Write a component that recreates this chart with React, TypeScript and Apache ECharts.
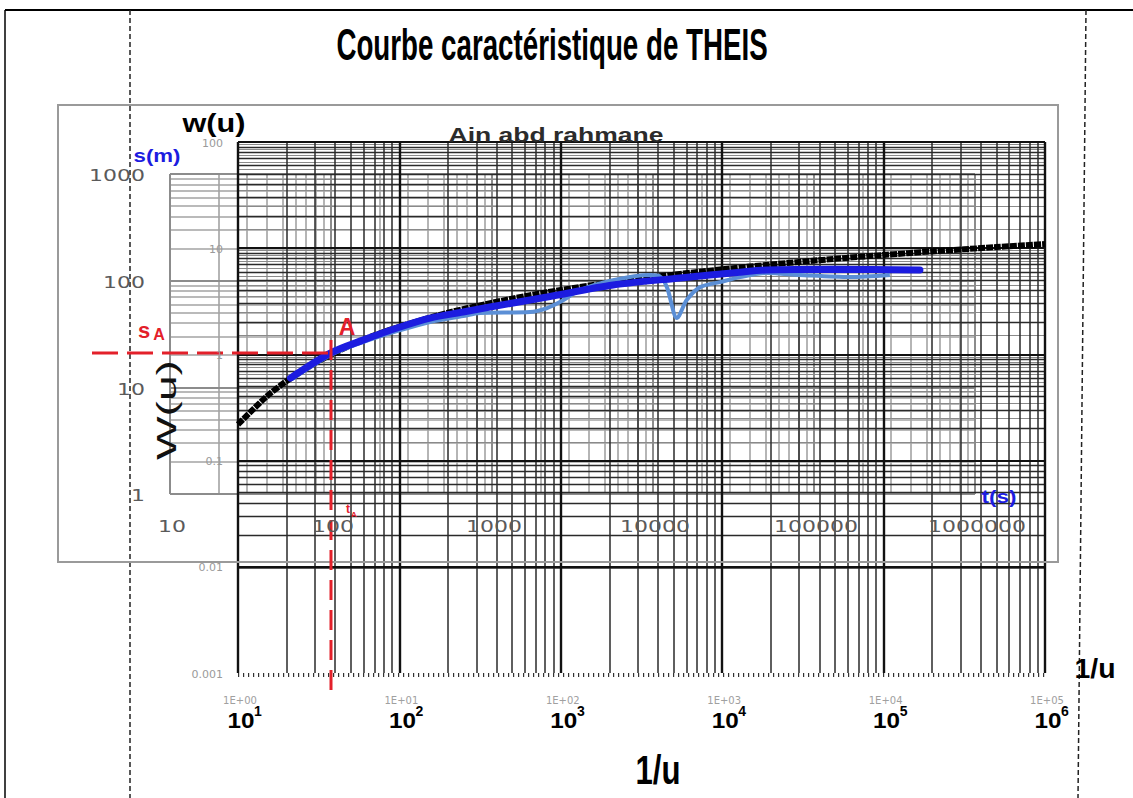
import React, { useEffect, useRef } from 'react';
import * as echarts from 'echarts';

const titleText = 'Courbe caractéristique de THEIS';
const excelTitle = 'Ain abd rahmane';

// Theis type curve : W(u) against 1/u (black)
const theisInvU = [1, 1.5, 2, 3, 5, 7, 10, 20, 50, 100, 200, 500, 1000, 2000, 5000, 10000, 20000, 50000, 100000];
const theisW = [0.219, 0.40, 0.56, 0.83, 1.22, 1.51, 1.82, 2.47, 3.35, 4.04, 4.73, 5.64, 6.33, 7.02, 7.94, 8.63, 9.33, 10.24, 10.94];

// fitted drawdown s(m) against t(s) (blue)
const fitT = [56, 99, 158, 257, 412, 661, 972, 2200, 5650, 14700, 34700, 51000, 131000, 455000];
const fitS = [12.2, 20.9, 27.7, 36.0, 44.6, 50.8, 56.6, 70.2, 91, 106, 120, 126, 128, 126];

// observed drawdown s(m) against t(s) (light blue)
const obsT = [57, 99, 158, 257, 412, 661, 842, 1720, 2200, 2640, 3520, 5650, 9570, 11000, 12200, 14100, 16200, 19600, 26100, 34700, 51000, 81800, 167000, 296000];
const obsS = [11.9, 20.0, 26.5, 33.6, 41.0, 46.6, 49.7, 50.8, 55.4, 63, 81.6, 101, 113, 110, 87, 44.6, 65.8, 87, 97, 108, 118, 113, 108, 113];

// match point A
const matchT = 100;
const matchS = 21;

// tick labels
const sTicks = [1, 10, 100, 1000];
const sTickLabels = ['1', '10', '100', '1000'];
const tTicks = [10, 100, 1000, 10000, 100000, 1000000];
const tTickLabels = ['10', '100', '1000', '10000', '100000', '1000000'];
const invUTicks = [1, 10, 100, 1000, 10000, 100000];
const invUExponents = ['1', '2', '3', '4', '5', '6'];
const invUFaint = ['1E+00', '1E+01', '1E+02', '1E+03', '1E+04', '1E+05'];
const wTicks = [100, 10, 1, 0.1, 0.01, 0.001];
const wTickLabels = ['100', '10', '1', '0.1', '0.01', '0.001'];

const RED = '#e3202a';
const BLUE = '#1c1ce0';

function measure(text: string, font: string) {
  const c = document.createElement('canvas').getContext('2d')!;
  c.font = font;
  return c.measureText(text).width;
}

function stext(text: string, x: number, y: number, size: number, targetW: number | null, fill: string, opts: any = {}) {
  const weight = opts.weight || 'bold';
  const family = opts.family || 'Liberation Sans';
  let sx = 1;
  if (targetW) sx = targetW / measure(text, `${weight} ${size}px "${family}"`);
  return {
    type: 'text',
    x,
    y,
    scaleX: sx,
    rotation: opts.rotation || 0,
    z: 100,
    silent: true,
    style: {
      text,
      fontSize: size,
      fontWeight: weight,
      fontFamily: family,
      fill,
      align: opts.align || 'center',
      verticalAlign: 'middle',
    },
  };
}

function decades(lo: number, hi: number) {
  const majors: number[] = [];
  const minors: number[] = [];
  const halves: number[] = [];
  for (let e = lo; e < hi; e++) {
    const b = Math.pow(10, e);
    majors.push(b);
    for (let m = 2; m <= 9; m++) minors.push(+(m * b).toPrecision(6));
    for (let m = 1.5; m < 10; m += 1) halves.push(+(m * b).toPrecision(6));
  }
  majors.push(Math.pow(10, hi));
  return { majors, minors, halves };
}

export default function App() {
  const ref = useRef<HTMLDivElement>(null);
  useEffect(() => {
    const chart = echarts.init(ref.current!, null, { renderer: 'svg' });

    const tx = decades(0, 5); // 1/u
    const ty = decades(-3, 2); // W(u)
    const ex = decades(1, 6); // t
    const ey = decades(0, 3); // s

    const theisLines: any[] = [
      ...ty.halves.map((v) => ({ yAxis: v, lineStyle: { color: '#8a8a8a', width: 1.2 } })),
      ...ty.minors.map((v) => ({ yAxis: v, lineStyle: { color: '#2a2a2a', width: 1.4 } })),
      ...tx.minors.map((v) => ({ xAxis: v, lineStyle: { color: '#2a2a2a', width: 1.5 } })),
      ...ty.majors.map((v) => ({ yAxis: v, lineStyle: { color: '#111', width: 2.2 } })),
      ...tx.majors.map((v) => ({ xAxis: v, lineStyle: { color: '#111', width: 2.4 } })),
    ];
    const excelLines: any[] = [
      ...ey.minors.map((v) => ({ yAxis: v, lineStyle: { color: '#a3a3a3', width: 1.6 } })),
      ...ex.minors.map((v) => ({ xAxis: v, lineStyle: { color: '#a3a3a3', width: 1.6 } })),
      ...ey.majors.map((v) => ({ yAxis: v, lineStyle: { color: '#8c8c8c', width: 2 } })),
      ...ex.majors.map((v) => ({ xAxis: v, lineStyle: { color: '#8c8c8c', width: 2 } })),
    ];

    const hiddenAxis = {
      axisLine: { show: false },
      axisTick: { show: false },
      axisLabel: { show: false },
      splitLine: { show: false },
    };

    chart.setOption({
      animation: false,
      backgroundColor: '#fff',
      grid: [
        { left: 238, top: 142, width: 807, height: 531 },
        { left: 170, top: 174, width: 805, height: 320 },
      ],
      xAxis: [
        { type: 'log', logBase: 10, gridIndex: 0, min: 1, max: 100000, ...hiddenAxis },
        { type: 'log', logBase: 10, gridIndex: 1, min: 10, max: 1000000, ...hiddenAxis },
      ],
      yAxis: [
        { type: 'log', logBase: 10, gridIndex: 0, min: 0.001, max: 100, ...hiddenAxis },
        { type: 'log', logBase: 10, gridIndex: 1, min: 1, max: 1000, ...hiddenAxis },
      ],
      series: [
        {
          type: 'line',
          xAxisIndex: 1,
          yAxisIndex: 1,
          data: [[10, 1]],
          symbol: 'none',
          lineStyle: { opacity: 0 },
          silent: true,
          markLine: {
            silent: true,
            symbol: ['none', 'none'],
            z: 1,
            label: { show: false },
            lineStyle: { type: 'solid' },
            emphasis: { disabled: true },
            data: excelLines,
          },
        },
        {
          type: 'line',
          xAxisIndex: 0,
          yAxisIndex: 0,
          data: [[1, 0.001]],
          symbol: 'none',
          lineStyle: { opacity: 0 },
          silent: true,
          markLine: {
            silent: true,
            symbol: ['none', 'none'],
            z: 2,
            label: { show: false },
            lineStyle: { type: 'solid' },
            emphasis: { disabled: true },
            data: theisLines,
          },
        },
        {
          name: 'W(u)',
          type: 'line',
          xAxisIndex: 0,
          yAxisIndex: 0,
          z: 6,
          smooth: 0.3,
          symbol: 'none',
          data: theisInvU.map((v, i) => [v, theisW[i]]),
          lineStyle: { color: '#000', width: 6, type: [7, 1] },
        },
        {
          name: 'observé',
          type: 'line',
          xAxisIndex: 1,
          yAxisIndex: 1,
          z: 7,
          smooth: 0.3,
          symbol: 'none',
          data: obsT.map((v, i) => [v, obsS[i]]),
          lineStyle: { color: '#5b8fd6', width: 4 },
        },
        {
          name: 'ajusté',
          type: 'line',
          xAxisIndex: 1,
          yAxisIndex: 1,
          z: 8,
          smooth: 0.3,
          symbol: 'none',
          data: fitT.map((v, i) => [v, fitS[i]]),
          lineStyle: { color: BLUE, width: 7, cap: 'round' },
        },
      ],
    });

    const pB = (t: number, s: number) => chart.convertToPixel({ xAxisIndex: 1, yAxisIndex: 1 }, [t, s]) as number[];
    const pA = (x: number, w: number) => chart.convertToPixel({ xAxisIndex: 0, yAxisIndex: 0 }, [x, w]) as number[];

    const g: any[] = [];
    // page frame
    g.push({ type: 'line', z: 50, shape: { x1: 5, y1: 10, x2: 1133, y2: 10 }, style: { stroke: '#000', lineWidth: 2 } });
    g.push({ type: 'line', z: 50, shape: { x1: 5, y1: 10, x2: 5, y2: 798 }, style: { stroke: '#000', lineWidth: 1.5 } });
    g.push({ type: 'line', z: 50, shape: { x1: 130, y1: 10, x2: 130, y2: 798 }, style: { stroke: '#222', lineWidth: 1.5, lineDash: [5, 3] } });
    g.push({ type: 'line', z: 50, shape: { x1: 1086, y1: 10, x2: 1078, y2: 798 }, style: { stroke: '#222', lineWidth: 1.5, lineDash: [5, 3] } });
    // excel chart frame
    g.push({ type: 'rect', z: 50, shape: { x: 58, y: 105, width: 1000, height: 457 }, style: { fill: 'none', stroke: '#9a9a9a', lineWidth: 2 } });

    // ruler ticks on the Theis bottom axis
    const b0 = pA(1, 0.001);
    const b1 = pA(100000, 0.001);
    g.push({ type: 'line', z: 40, shape: { x1: b0[0], y1: b0[1] + 2, x2: b1[0], y2: b1[1] + 2 }, style: { stroke: '#333', lineWidth: 4, lineDash: [1.2, 3.8] } });

    // titles
    g.push(stext(titleText, 552, 45, 44, 431, '#000'));
    g.push(stext(excelTitle, 556, 135, 21, 215, '#2b2b2b'));
    g.push(stext('w(u)', 214, 124, 25, 63, '#000'));
    g.push(stext('s(m)', 157, 155, 19, 47, BLUE));
    g.push(stext('t(s)', 999, 496, 19, 35, BLUE));
    g.push(stext('1/u', 1095, 668, 28, 41, '#000'));
    g.push(stext('1/u', 658, 771, 40, 45, '#000'));
    g.push(stext('W(u)', 166, 410, 28, 100, '#111', { rotation: Math.PI / 2, weight: 'normal' }));

    // excel tick labels
    sTicks.forEach((v, i) => {
      const p = pB(10, v);
      g.push(stext(sTickLabels[i], 145, p[1] + 2, 16, sTickLabels[i].length * 14, '#5a5a5a', { weight: 'normal', family: 'DejaVu Sans', align: 'right' }));
    });
    tTicks.forEach((v, i) => {
      const p = pB(v, 1);
      g.push(stext(tTickLabels[i], p[0] + 2, 527, 16, tTickLabels[i].length * 14, '#5a5a5a', { weight: 'normal', family: 'DejaVu Sans' }));
    });

    // Theis faint tick labels
    wTicks.forEach((v, i) => {
      const p = pA(1, v);
      g.push(stext(wTickLabels[i], 223, p[1] + 1, 11, null, '#9a9a9a', { weight: 'normal', family: 'DejaVu Sans', align: 'right' }));
    });
    invUTicks.forEach((v, i) => {
      const p = pA(v, 0.001);
      g.push(stext(invUFaint[i], p[0] + 2, 700, 10, null, '#a0a0a0', { weight: 'normal', family: 'DejaVu Sans' }));
      g.push(stext('10', p[0] + 3, 720, 22, 27, '#000'));
      g.push(stext(invUExponents[i], p[0] + 20, 711, 14, null, '#000'));
    });

    // match point A
    const m = pB(matchT, matchS);
    g.push({ type: 'line', z: 60, shape: { x1: 92, y1: m[1], x2: m[0] + 6, y2: m[1] }, style: { stroke: RED, lineWidth: 3, lineDash: [26, 9] } });
    g.push({ type: 'line', z: 60, shape: { x1: m[0], y1: m[1] - 13, x2: m[0], y2: 697 }, style: { stroke: RED, lineWidth: 3, lineDash: [20, 10] } });
    g.push(stext('A', m[0] + 16, m[1] - 26, 23, null, RED));
    g.push(stext('s', 144, m[1] - 22, 22, null, RED));
    g.push(stext('A', 159, m[1] - 18, 16, null, RED));
    g.push(stext('t', m[0] + 17, 509, 12, null, RED));
    g.push(stext('A', m[0] + 23, 514, 8, null, RED));

    chart.setOption({ graphic: g });

    return () => chart.dispose();
  }, []);
  return <div ref={ref} style={{ position: 'fixed', left: 0, top: 0, width: 1133, height: 798, background: '#fff' }} />;
}
